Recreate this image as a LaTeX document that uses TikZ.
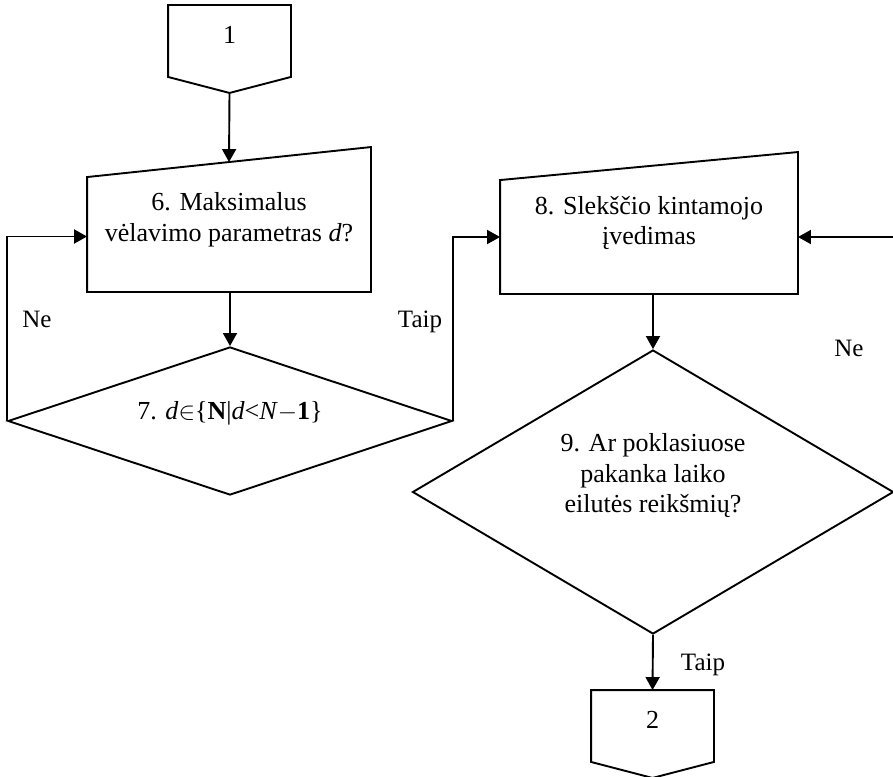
\documentclass[tikz,border=0pt]{standalone}
\usepackage{fontspec}
\setmainfont{Liberation Serif}
\usetikzlibrary{shapes.geometric,arrows.meta,calc}

\begin{document}
\begin{tikzpicture}[x=1pt,y=-1pt,line width=1.9pt,
		font=\fontsize{26}{30.5}\selectfont,
		box/.style={align=center,inner sep=0pt},
		decision/.style={draw,diamond,align=center,inner sep=0pt,shape aspect=1.7},
		offpage/.style={inner sep=0pt,minimum width=121pt,minimum height=86pt,text depth=28pt},
		lbl/.style={font=\fontsize{25}{30}\selectfont,anchor=base},
		arr/.style={-{Triangle[length=13pt,width=14pt]}}]
		\useasboundingbox (0,0) rectangle (893,776);
		% blocks
		\node[offpage] (c1) at (229.5,49) {1};
		\node[box,minimum width=282pt,minimum height=143pt] (b6) at (229,219.5) {6. Maksimalus\\vėlavimo parametras \textit{d}?};
		\node[decision,minimum width=444pt,minimum height=144pt,text depth=21pt] (d7) at (230,421) {7. \textit{d}$\in$\{\textbf{N}|\textit{d}<\textit{N}$-$\textbf{1}\}};
		\node[box,minimum width=296pt,minimum height=140pt] (b8) at (649,223) {8. Slekščio kintamojo\\įvedimas};
		\node[decision,minimum width=481pt,minimum height=284pt,text depth=38pt] (d9) at (653,492) {9. Ar poklasiuose\\pakanka laiko\\eilutės reikšmių?};
		\node[offpage] (c2) at (652.5,734) {2};
		\coordinate (in8) at (893,237);
		% outlines
		\draw (c1.south) -- ([yshift=16pt]c1.south east) -- (c1.north east) -- (c1.north west) -- ([yshift=16pt]c1.south west) -- cycle;
		\draw (c2.south) -- ([yshift=16pt]c2.south east) -- (c2.north east) -- (c2.north west) -- ([yshift=16pt]c2.south west) -- cycle;
		\draw (b6.south west) -- ([yshift=-30pt]b6.north west) -- (b6.north east) -- (b6.south east) -- cycle;
		\draw (b8.south west) -- ([yshift=-28pt]b8.north west) -- (b8.north east) -- (b8.south east) -- cycle;
		% connectors
		\draw[arr] (c1.south) -- ($([yshift=-30pt]b6.north west)!0.5!(b6.north east)$);
		\draw[arr] (d7.north |- b6.south) -- (d7.north);
		\draw[arr] (d7.west) |- ([yshift=-17pt]b6.west);
		\draw[arr] (d7.east) |- ([yshift=-14pt]b8.west);
		\draw[arr] (in8) -- ([yshift=-14pt]b8.east);
		\draw[arr] (d9.north |- b8.south) -- (d9.north);
		\draw[arr] (d9.south) -- (c2.north);
		% labels
		\node[lbl] (ne1) at (37,327) {Ne};
		\node[lbl] (taip1) at (420,327) {Taip};
		\node[lbl] (ne2) at (849,356) {Ne};
		\node[lbl] (taip2) at (703,670) {Taip};
	\end{tikzpicture}
\end{document}
